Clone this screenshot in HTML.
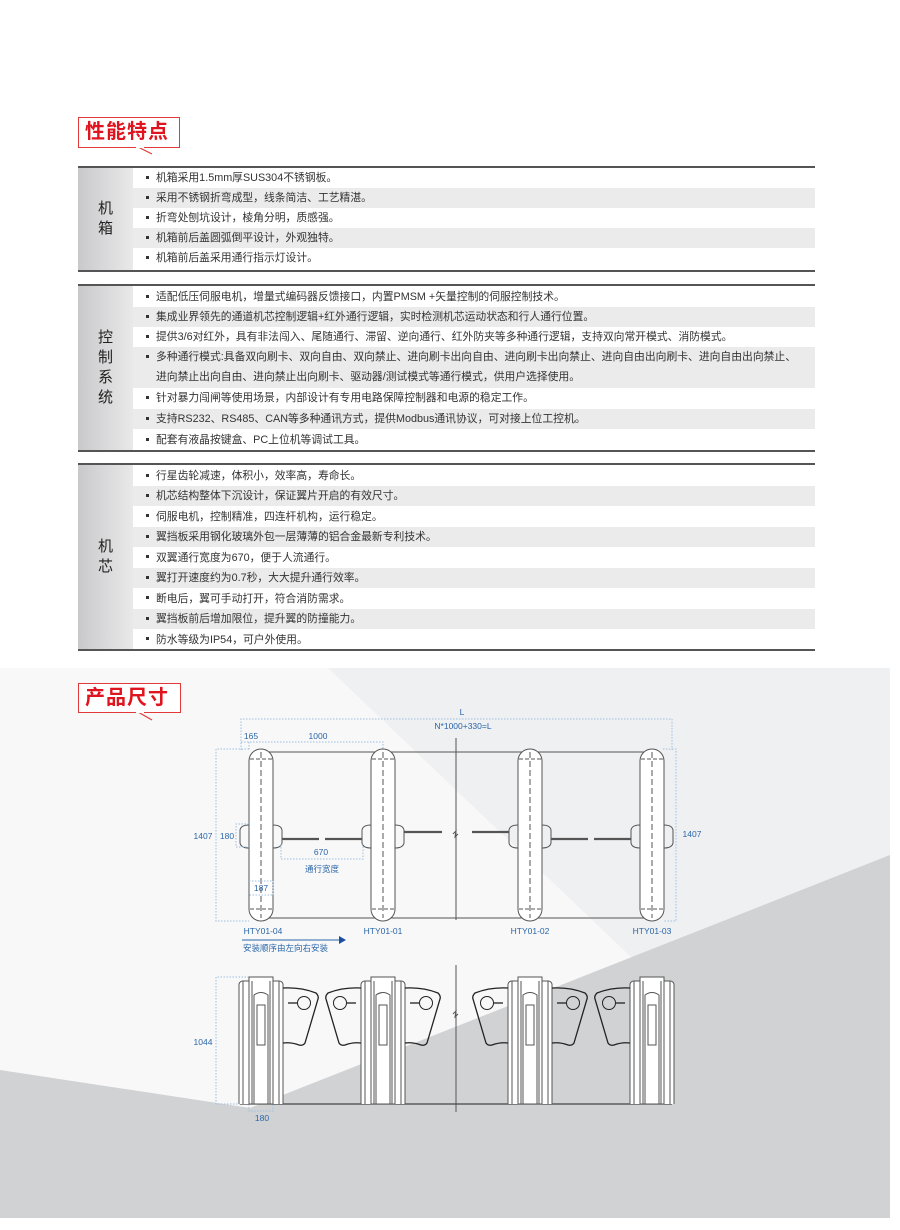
<!DOCTYPE html>
<html><head><meta charset="utf-8"><style>
*{margin:0;padding:0;box-sizing:border-box}
body{width:900px;height:1230px;position:relative;background:#fff;font-family:"Liberation Sans","Noto Sans CJK SC",sans-serif;overflow:hidden}
.ab{position:absolute}
.hdr{position:absolute;border:1px solid #e23a3a;color:#e0141e;font-weight:bold;font-size:20px;line-height:28px;padding-left:6px;letter-spacing:1px;background:#fff}
.sec{position:absolute;left:78px;width:737px;border-top:2px solid #555;border-bottom:2px solid #555}
.lab{position:absolute;left:0;top:0;bottom:0;width:55px;background:linear-gradient(90deg,#c9c9cb,#e9e9ea);color:#222;font-size:15px;line-height:20px;text-align:center;display:flex;align-items:center;justify-content:center}
.row{position:absolute;left:55px;right:0;font-size:10.8px;color:#333;padding-left:13px;line-height:20px;white-space:nowrap}
.row.g{background:#ebebec}
.row:before{content:"";display:inline-block;width:3px;height:3px;background:#333;margin-right:7px;vertical-align:middle;position:relative;top:-1px}
</style></head><body>
<div class="hdr" style="left:78px;top:117px;width:102px;height:31px">性能特点</div>
<svg class="ab" style="left:130px;top:146px" width="30" height="12"><line x1="8" y1="1" x2="22" y2="8" stroke="#e23a3a" stroke-width="1.2"/><line x1="6" y1="1" x2="14" y2="1" stroke="#fff" stroke-width="2"/></svg>

<div class="sec" style="top:166px;height:106px">
<div class="lab">机<br>箱</div>
<div class="row" style="top:0">机箱采用1.5mm厚SUS304不锈钢板。</div>
<div class="row g" style="top:20px">采用不锈钢折弯成型，线条简洁、工艺精湛。</div>
<div class="row" style="top:40px">折弯处刨坑设计，棱角分明，质感强。</div>
<div class="row g" style="top:60px">机箱前后盖圆弧倒平设计，外观独特。</div>
<div class="row" style="top:80px">机箱前后盖采用通行指示灯设计。</div>
</div>

<div class="sec" style="top:284px;height:168px">
<div class="lab">控<br>制<br>系<br>统</div>
<div class="row" style="top:1px">适配低压伺服电机，增量式编码器反馈接口，内置PMSM +矢量控制的伺服控制技术。</div>
<div class="row g" style="top:21px">集成业界领先的通道机芯控制逻辑+红外通行逻辑，实时检测机芯运动状态和行人通行位置。</div>
<div class="row" style="top:41px">提供3/6对红外，具有非法闯入、尾随通行、滞留、逆向通行、红外防夹等多种通行逻辑，支持双向常开模式、消防模式。</div>
<div class="row g" style="top:61px;height:41px">多种通行模式:具备双向刷卡、双向自由、双向禁止、进向刷卡出向自由、进向刷卡出向禁止、进向自由出向刷卡、进向自由出向禁止、<br><span style="padding-left:10px">进向禁止出向自由、进向禁止出向刷卡、驱动器/测试模式等通行模式，供用户选择使用。</span></div>
<div class="row" style="top:102px">针对暴力闯闸等使用场景，内部设计有专用电路保障控制器和电源的稳定工作。</div>
<div class="row g" style="top:123px">支持RS232、RS485、CAN等多种通讯方式，提供Modbus通讯协议，可对接上位工控机。</div>
<div class="row" style="top:144px">配套有液晶按键盒、PC上位机等调试工具。</div>
</div>

<div class="sec" style="top:463px;height:188px">
<div class="lab">机<br>芯</div>
<div class="row" style="top:1px">行星齿轮减速，体积小，效率高，寿命长。</div>
<div class="row g" style="top:21px">机芯结构整体下沉设计，保证翼片开启的有效尺寸。</div>
<div class="row" style="top:41.5px">伺服电机，控制精准，四连杆机构，运行稳定。</div>
<div class="row g" style="top:62px">翼挡板采用钢化玻璃外包一层薄薄的铝合金最新专利技术。</div>
<div class="row" style="top:82.5px">双翼通行宽度为670，便于人流通行。</div>
<div class="row g" style="top:103px">翼打开速度约为0.7秒，大大提升通行效率。</div>
<div class="row" style="top:123.5px">断电后，翼可手动打开，符合消防需求。</div>
<div class="row g" style="top:144px">翼挡板前后增加限位，提升翼的防撞能力。</div>
<div class="row" style="top:164.5px">防水等级为IP54，可户外使用。</div>
</div>

<svg class="ab" style="left:0;top:0" width="900" height="1230">
<defs>
<g id="tp" fill="none" stroke="#555" stroke-width="1">
<rect x="-12" y="749" width="24" height="172" rx="12" fill="#fff"/>
<line x1="0" y1="752" x2="0" y2="918" stroke-dasharray="6,3"/>
<line x1="-11" y1="759" x2="11" y2="759" stroke-dasharray="4,2"/>
<line x1="-11" y1="909" x2="11" y2="909" stroke-dasharray="4,2"/>
<path d="M12,825 Q20,825 21,830 L21,843 Q20,848 12,848"/>
<path d="M-12,825 Q-20,825 -21,830 L-21,843 Q-20,848 -12,848"/>
</g>
<g id="fp" fill="none" stroke="#555" stroke-width="1">
<path d="M-22,1104 L-22,984 Q-21,981 -18,981 L18,981 Q21,981 22,984 L22,1104" fill="#fff"/>
<rect x="-12" y="977" width="24" height="127" fill="#fff"/>
<line x1="-18" y1="981" x2="-18" y2="1104"/><line x1="18" y1="981" x2="18" y2="1104"/>
<line x1="-9" y1="981" x2="-9" y2="1104"/><line x1="9" y1="981" x2="9" y2="1104"/>
<path d="M-7,1104 L-7,995 Q0,990 7,995 L7,1104"/>
<rect x="-4" y="1005" width="8" height="40"/>
</g>
<g id="wg" fill="none" stroke="#222" stroke-width="1.3">
<path d="M22,988 Q40,987 55,993 Q58,996 57,999 L44,1043 Q42,1046 38,1045 Q30,1042 22,1043"/>
<circle cx="43" cy="1003" r="6.5" stroke-width="1"/>
<line x1="27" y1="1003" x2="36" y2="1003"/>
</g>
</defs>
<rect x="0" y="668" width="890" height="550" fill="#eff0f2"/>
<polygon points="0,668 328,668 632,958 250,1108 0,1070" fill="#f8f8f9"/>
<polygon points="890,855 890,1218 0,1218 0,1070 250,1108" fill="#d1d2d4"/>
<g stroke="#555" stroke-width="1" fill="none">
<line x1="261" y1="752" x2="652" y2="752"/><line x1="261" y1="918" x2="652" y2="918"/>
<line x1="456" y1="738" x2="456" y2="920"/>
<line x1="456" y1="965" x2="456" y2="1112"/>
<path d="M453,834 l3,-3 l-1,6 l3,-3" /><path d="M453,1014 l3,-3 l-1,6 l3,-3"/>
</g>
<use href="#tp" x="261"/><use href="#tp" x="383"/><use href="#tp" x="530"/><use href="#tp" x="652"/>
<g stroke="#555" stroke-width="2.2">
<line x1="282" y1="839" x2="319" y2="839"/><line x1="325" y1="839" x2="362" y2="839"/>
<line x1="404" y1="832" x2="442" y2="832"/><line x1="472" y1="832" x2="509" y2="832"/>
<line x1="551" y1="839" x2="588" y2="839"/><line x1="594" y1="839" x2="631" y2="839"/>
</g>
<g stroke="#9dbfe0" stroke-width="1" fill="none" stroke-dasharray="1.5,1.5">
<path d="M241,750 L241,719 L672,719 L672,750"/>
<path d="M241,742 L383,742 L383,750"/><line x1="249" y1="742" x2="249" y2="750"/>
<path d="M249,749 L216,749 L216,921 L249,921"/>
<path d="M249,824 L236,824 L236,847 L249,847"/>
<path d="M281,844 L281,859 L363,859 L363,844"/>
<path d="M249,881 L273,881 L273,895 L249,895"/>
<path d="M663,749 L676,749 L676,921 L663,921"/>
<path d="M249,977 L216,977 L216,1104 L249,1104"/>
<path d="M249,1104 L249,1111 L273,1111 L273,1104"/>
</g>
<g fill="#2a66a8" font-family="Liberation Sans, Noto Sans CJK SC, sans-serif" font-size="8.5" text-anchor="middle">
<text x="462" y="715">L</text><text x="463" y="729">N*1000+330=L</text>
<text x="251" y="739">165</text><text x="318" y="739">1000</text>
<text x="203" y="839">1407</text><text x="227" y="839">180</text>
<text x="321" y="855">670</text><text x="322" y="872">通行宽度</text>
<text x="261" y="891">187</text><text x="692" y="837">1407</text>
<text x="263" y="934">HTY01-04</text><text x="383" y="934">HTY01-01</text><text x="530" y="934">HTY01-02</text><text x="652" y="934">HTY01-03</text>
<text x="243" y="951" text-anchor="start">安装顺序由左向右安装</text>
<text x="203" y="1045">1044</text><text x="262" y="1121">180</text>
</g>
<line x1="242" y1="940" x2="340" y2="940" stroke="#2a66a8" stroke-width="1"/>
<polygon points="339,936 346,940 339,944" fill="#1b4f9a"/>
<line x1="240" y1="1104" x2="672" y2="1104" stroke="#444" stroke-width="1.2"/>
<use href="#fp" x="261"/><use href="#fp" x="383"/><use href="#fp" x="530"/><use href="#fp" x="652"/>
<use href="#wg" x="261"/>
<use href="#wg" transform="translate(383,0) scale(-1,1)"/><use href="#wg" x="383"/>
<use href="#wg" transform="translate(530,0) scale(-1,1)"/><use href="#wg" x="530"/>
<use href="#wg" transform="translate(652,0) scale(-1,1)"/>
</svg>
<div class="hdr" style="left:78px;top:683px;width:103px;height:30px">产品尺寸</div>
<svg class="ab" style="left:130px;top:711px" width="30" height="12"><line x1="8" y1="1" x2="22" y2="9" stroke="#e23a3a" stroke-width="1.2"/><line x1="6" y1="1" x2="14" y2="1" stroke="#fff" stroke-width="2"/></svg>
</body></html>
